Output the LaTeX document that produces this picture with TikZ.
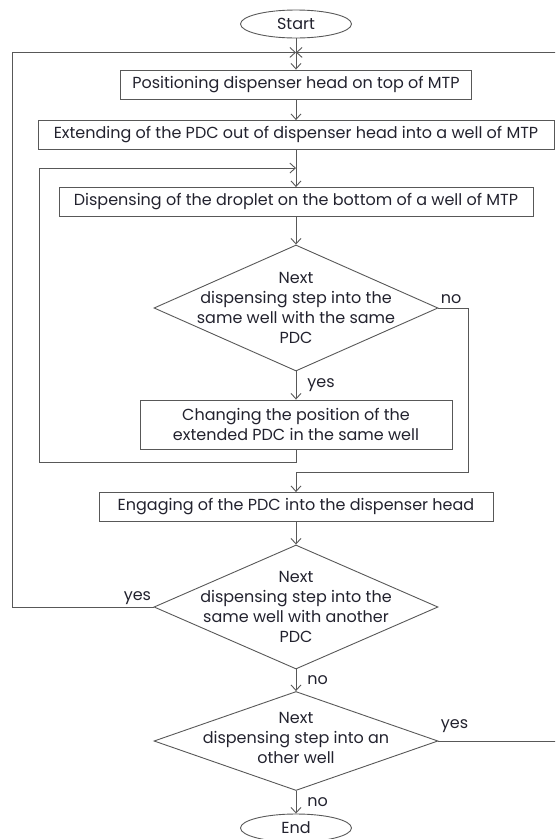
\documentclass[tikz,border=0pt]{standalone}
\usepackage{fontspec}
\setmainfont{Poppins}
\usetikzlibrary{arrows.meta,shapes}
\definecolor{txt}{HTML}{22222E}
\definecolor{linegray}{HTML}{585858}

\begin{document}
\begin{tikzpicture}[->,>={Straight Barb[length=5.5pt,width=10pt]},line width=0.9pt,draw=linegray,font=\fontsize{16}{19.7}\selectfont]
\tikzstyle{process}=[draw=linegray,rectangle,minimum height=29pt,inner sep=0pt,text=txt,align=center]
\tikzstyle{decision}=[draw=linegray,diamond,minimum width=284pt,inner sep=0pt]
\tikzstyle{terminal}=[draw=linegray,ellipse,minimum width=111pt,minimum height=28pt,inner sep=0pt,text=txt]
\tikzstyle{answer}=[text=txt,inner sep=2pt]

\useasboundingbox (-296pt,24pt) rectangle (259pt,-815pt);
\clip (-296pt,24pt) rectangle (259pt,-815pt);

\node[terminal]                          (start) []                                   {Start};
\node[process, minimum width=351pt]      (box1)  [below of=start, node distance=60.5pt] {Positioning dispenser head on top of MTP};
\node[process, minimum width=516pt]      (box2)  [below of=box1, node distance=50.5pt]  {Extending of the PDC out of dispenser head into a well of MTP};
\node[process, minimum width=474pt]      (box3)  [below of=box2, node distance=67pt]    {Dispensing of the droplet on the bottom of a well of MTP};
\node[decision, minimum height=126pt,
      label={[text=txt,align=center]center:Next\\dispensing step into the\\same well with the same\\PDC}]
                                         (d1)    [below of=box3, node distance=106pt]   {};
\node[process, minimum width=312pt, minimum height=49pt]
                                         (box5)  [below of=d1, node distance=116.5pt]   {Changing the position of the\\extended PDC in the same well};
\node[process, minimum width=394pt]      (box4)  [below of=box5, node distance=82.5pt]  {Engaging of the PDC into the dispenser head};
\node[decision, minimum height=124pt,
      label={[text=txt,align=center]center:Next\\dispensing step into the\\same well with another\\PDC}]
                                         (d2)    [below of=box4, node distance=100pt]   {};
\node[decision, minimum height=99pt,
      label={[text=txt,align=center,yshift=3pt]center:Next\\dispensing step into an\\other well}]
                                         (d3)    [below of=d2, node distance=134pt]     {};
\node[terminal]                          (end)   [below of=d3, node distance=87pt]      {End};

\coordinate (join)  at ([yshift=-14pt]start.south);
\coordinate (inner) at ([yshift=19pt]box3.north);

\path
(start) edge (box1)
(box1) edge (box2)
(box2) edge (box3)
(box3) edge (d1)
(d1) edge node[answer,right=9pt] {yes} (box5)
(box4) edge (d2)
(d2) edge node[answer,right=9pt] {no} (d3)
(d3) edge node[answer,right=9pt] {no} (end);

\draw (box5.south) -- ++(0,-13pt) -| ([xshift=-257pt]inner) -- (inner);
\draw (d1.east) -- ++(30pt,0) node[pos=0,answer,above right,yshift=2pt] {no} |- ([yshift=20pt]box4.north) -- (box4.north);
\draw (d2.west) -- ++(-141pt,0) node[pos=0,answer,above left] {yes} |- (join);
\draw (d3.east) -- ++(121pt,0) node[pos=0,answer,above right,yshift=6pt] {yes} |- (join);
\end{tikzpicture}
\end{document}
